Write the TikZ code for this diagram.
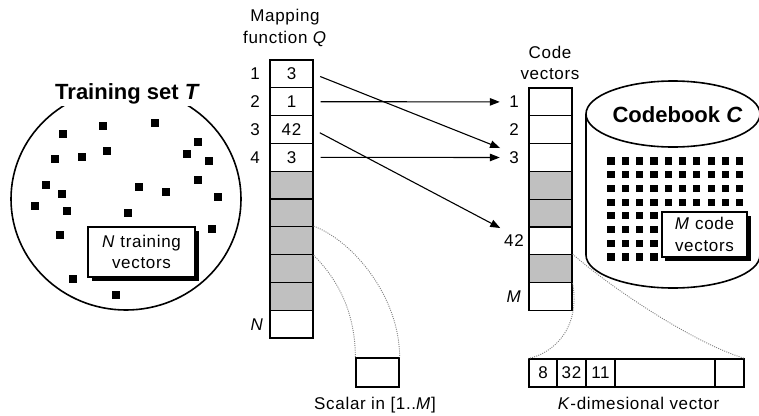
\documentclass[tikz,border=0pt]{standalone}
\usepackage{fontspec}
\setmainfont{Liberation Sans}
\newfontfamily\lblfam[LetterSpace=4]{Liberation Sans}
\newcommand\lblsize{\lblfam\fontsize{17}{21.5}\selectfont}
\newcommand\ttlsize{\fontsize{22}{26}\selectfont\bfseries}
\usetikzlibrary{arrows.meta,shapes.geometric,shadows}
\definecolor{cellgray}{RGB}{192,192,192}
\begin{document}
\begin{tikzpicture}[x=1pt,y=-1pt,
  lbl/.style={font=\lblsize, inner sep=0pt},
  ttl/.style={font=\ttlsize},
  cellbox/.style={draw, line width=1.3pt, minimum width=43pt, minimum height=27.8pt, inner sep=0pt, font=\lblsize},
  codelbl/.style={lbl, minimum width=20pt},
  arr/.style={line width=1.1pt, -{Triangle[length=10pt,width=7.5pt]}, shorten <=7pt, shorten >=4pt},
  dotl/.style={gray, line width=0.9pt, dash pattern=on 1pt off 1.2pt},
  shadowbox/.style={draw, fill=white, line width=1.2pt, align=center, font=\lblsize, inner sep=0pt,
    drop shadow={shadow xshift=4pt, shadow yshift=-4pt, fill=black, opacity=1}},
  sq/.style={fill=black}
]
\useasboundingbox (0,0) rectangle (759,415);

% ---------- Training set ----------
\node[draw, ellipse, line width=1.6pt, minimum width=230pt, minimum height=222pt, inner sep=0pt] (ts) at (126,199) {};
\foreach \px/\py in {63/134,103/126,155/123,198/142,107/151,55/159,82/157,187/154,209/161,198/180,
                     46/185,62/194,139/187,166/192,218/197,35/206,67/211,128/213,60/235,212/229,73/279,116/295}
  \fill[sq] (\px-3.7,\py-3.7) rectangle (\px+3.7,\py+3.7);
\node[ttl, fill=white, inner sep=2pt, anchor=base] (tsT) at (127.5,99) {Training set \textit{T}};
\node[shadowbox, minimum width=107pt, minimum height=50pt] (ntv) at (141.5,252) {\textit{N} training\\vectors};

% ---------- Mapping function ----------
\node[lbl, align=center] (mapT) at (285,28) {Mapping\\function \textit{Q}};
\foreach \i/\t/\f in {1/3/white,2/1/white,3/42/white,4/3/white,5//cellgray,6//cellgray,7//cellgray,8//cellgray,9//cellgray,10//white}
  \node[cellbox, fill=\f] (q\i) at (291.5,{60+27.8*(\i-0.5)}) {\t};
\foreach \i in {1,...,4}
  \node[lbl] (ql\i) at (255,{60+27.8*(\i-0.5)}) {\i};
\node[lbl] (qlN) at (257,324.5) {\textit{N}};

% ---------- Code vectors ----------
\node[lbl, align=center] (cvT) at (550,63) {Code\\vectors};
\foreach \i/\f in {1/white,2/white,3/white,4/cellgray,5/cellgray,6/white,7/cellgray,8/white}
  \node[cellbox, fill=\f] (c\i) at (550.5,{88+27.8*(\i-0.5)}) {};
\node[codelbl] (cl1) at (514,101.9) {1};
\node[codelbl] (cl2) at (514,129.7) {2};
\node[codelbl] (cl3) at (514,157.5) {3};
\node[codelbl] (cl42) at (514,240.9) {42};
\node[codelbl] (clM) at (514,296.5) {\textit{M}};

% ---------- Arrows ----------
\draw[arr] (q1.east) -- ([yshift=8pt]cl3.west);
\draw[arr] (q2.east) -- (cl1.west);
\draw[arr] (q3.east) -- ([yshift=11pt]cl42.west);
\draw[arr] (q4.east) -- (cl3.west);

% ---------- Codebook ----------
\draw[line width=1.6pt] (673,114) ellipse [x radius=87, y radius=33];
\draw[line width=1.6pt] (586,114) -- (586,255)
  .. controls (586,273.2) and (625,288) .. (673,288)
  .. controls (721,288) and (760,273.2) .. (760,255);
\node[ttl, anchor=base] (cbT) at (677.5,122) {Codebook \textit{C}};
\foreach \i in {0,...,9}
  \foreach \j in {0,...,7}
    \fill[sq] ({611+14.3*\i-3.6},{161+13.7*\j-3.6}) rectangle ++(7.2,7.2);
\node[shadowbox, minimum width=85pt, minimum height=45pt] (mcv) at (704.5,234.5) {\textit{M} code\\vectors};

% ---------- Scalar ----------
\node[cellbox, minimum height=29pt] (sc) at (377.5,372.5) {};
\node[lbl, anchor=base] (scT) at (375,409) {Scalar in [1..\textit{M}]};

% ---------- K-dimensional vector ----------
\node[cellbox, minimum width=28pt] (k1) at (543,373) {8};
\node[cellbox, minimum width=29pt] (k2) at (571.5,373) {32};
\node[cellbox, minimum width=29pt] (k3) at (600.5,373) {11};
\node[cellbox, minimum width=100pt] (k4) at (665,373) {};
\node[cellbox, minimum width=29pt] (k5) at (729.5,373) {};
\node[lbl, anchor=base] (kT) at (638.5,409) {\textit{K}-dimesional vector};

% ---------- Dotted expansion lines ----------
\draw[dotl] (q7.north east) .. controls +(40,15) and +(0,-60) .. (sc.north east);
\draw[dotl] (q7.south east) .. controls +(20,20) and +(0,-50) .. (sc.north west);
\draw[dotl] (c7.north east) .. controls +(40,35) and +(-50,-15) .. (k5.north east);
\draw[dotl] (c7.south east) .. controls +(8,45) and +(25,-5) .. (k1.north west);
\end{tikzpicture}
\end{document}
